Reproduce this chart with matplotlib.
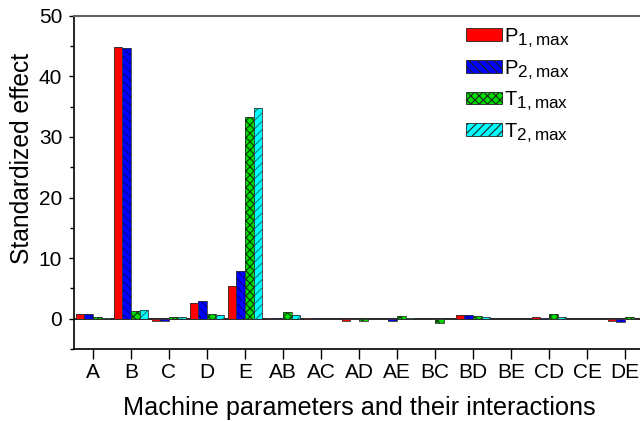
import numpy as np
import matplotlib
matplotlib.use("Agg")
import matplotlib.pyplot as plt
import matplotlib._mathtext as mathtext_impl

plt.rcParams["font.family"] = ["Liberation Sans", "DejaVu Sans"]
plt.rcParams["mathtext.fontset"] = "custom"
plt.rcParams["mathtext.rm"] = "Liberation Sans"
plt.rcParams["hatch.linewidth"] = 0.8
# subscripts in the original legend are nearly full size
mathtext_impl.SHRINK_FACTOR = 0.85

# effects
factors = ["A", "B", "C", "D", "E", "AB", "AC", "AD", "AE", "BC", "BD", "BE", "CD", "CE", "DE"]
p1_max = [0.77, 44.8, -0.4, 2.6, 5.4, 0.1, 0.1, -0.3, 0.0, -0.1, 0.66, 0.0, 0.3, -0.1, -0.35]
p2_max = [0.77, 44.6, -0.3, 3.0, 7.9, 0.05, 0.05, 0.0, -0.3, 0.0, 0.66, 0.0, 0.05, 0.0, -0.55]
t1_max = [0.33, 1.3, 0.27, 0.8, 33.3, 1.1, 0.0, -0.3, 0.5, -0.65, 0.5, 0.0, 0.85, -0.1, 0.3]
t2_max = [0.1, 1.4, 0.27, 0.6, 34.7, 0.66, 0.0, 0.0, 0.1, -0.1, 0.33, 0.0, 0.3, 0.0, 0.0]

series = [
    (r"P$_\mathregular{1,max}$", p1_max, "#ff0000", None, "#ff0000"),
    (r"P$_\mathregular{2,max}$", p2_max, "#0000ff", "\\\\\\\\", "#000080"),
    (r"T$_\mathregular{1,max}$", t1_max, "#00dd00", "xxxx", "#003300"),
    (r"T$_\mathregular{2,max}$", t2_max, "#00ffff", "////", "#007f7f"),
]

fig = plt.figure(figsize=(6.4, 4.21), dpi=100)
ax = fig.add_axes([74 / 640, 72 / 421, 570 / 640, 333.3 / 421])

x = np.arange(len(factors))
w = 0.225
for i, (label, vals, face, hatch, hcol) in enumerate(series):
    pos = x + (i - 1.5) * w
    ax.bar(pos, vals, w, color=face, hatch=hatch, edgecolor=hcol, linewidth=0)
    ax.bar(pos, vals, w, fill=False, edgecolor="#333333", linewidth=0.6)

# legend proxies with both hatch and dark outline
handles = []
for label, vals, face, hatch, hcol in series:
    h = plt.Rectangle((0, 0), 1, 1, facecolor=face, hatch=hatch, edgecolor="#222222", linewidth=0.6)
    handles.append(h)
ax.legend(handles, [s[0] for s in series], loc="upper left", bbox_to_anchor=(458 / 640, 1 - 18 / 421),
          bbox_transform=fig.transFigure, frameon=False, fontsize=14.5,
          handlelength=1.8, handleheight=0.6, handletextpad=0.1, labelspacing=0.45, borderaxespad=0)

ax.axhline(0, color="black", linewidth=1.2, zorder=0.5)

ax.set_xlim(-0.5, len(factors) - 0.5)
ax.set_ylim(-5, 50)
ax.set_xticks(x)
ax.set_xticklabels(factors, fontsize=15)
ax.set_yticks(np.arange(0, 51, 10))
ax.set_yticks(np.arange(-5, 50, 10), minor=True)
ax.tick_params(axis="y", which="major", direction="out", length=3.5, width=1, labelsize=15, pad=5)
ax.tick_params(axis="y", which="minor", direction="out", length=3, width=1)
ax.tick_params(axis="x", direction="out", length=7, width=1, pad=3)

ax.set_xlabel("Machine parameters and their interactions", fontsize=18.2, labelpad=10)
ax.set_ylabel("Standardized effect", fontsize=17.7)
ax.yaxis.set_label_coords(-0.071, 0.573)

ax.spines["top"].set_color("#606060")
ax.spines["top"].set_linewidth(1.5)
ax.spines["right"].set_color("#606060")
ax.spines["left"].set_linewidth(1.2)
ax.spines["bottom"].set_linewidth(1.2)

fig.savefig("out.png", dpi=100)
